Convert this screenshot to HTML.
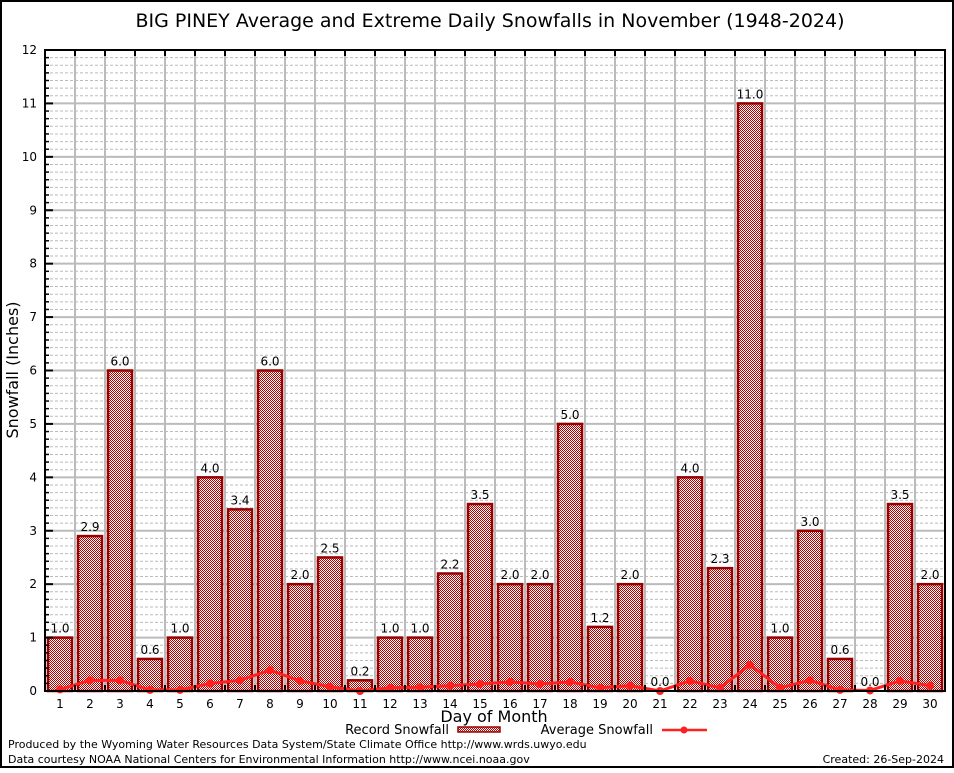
<!DOCTYPE html>
<html><head><meta charset="utf-8"><style>
body{margin:0;background:#fff;font-family:"Liberation Sans","DejaVu Sans",sans-serif}
svg text{font-family:"DejaVu Sans","Liberation Sans",sans-serif}
</style></head><body>
<svg id="c" width="954" height="768" viewBox="0 0 954 768" xmlns="http://www.w3.org/2000/svg">
<defs>
<pattern id="chk" width="2" height="2" patternUnits="userSpaceOnUse">
<rect width="2" height="2" fill="#fff" shape-rendering="crispEdges"/><rect width="1" height="1" fill="#b00000" shape-rendering="crispEdges"/><rect x="1" y="1" width="1" height="1" fill="#b00000" shape-rendering="crispEdges"/>
</pattern>
</defs>
<rect x="1" y="1" width="952" height="766" fill="#fff" stroke="#000" stroke-width="2"/>
<text x="490" y="27" font-size="19" text-anchor="middle" font-family="Liberation Sans">BIG PINEY Average and Extreme Daily Snowfalls in November (1948-2024)</text>
<g id="grid"></g>
<g id="bars"></g>
<g id="avg"></g>
<g id="axes"></g>
<text transform="translate(18,370) rotate(-90)" font-size="16" text-anchor="middle">Snowfall (Inches)</text>
<text x="494" y="722" font-size="16" text-anchor="middle">Day of Month</text>
<g>
<text x="449" y="734" font-size="13" text-anchor="end">Record Snowfall</text>
<rect x="458" y="727" width="42" height="5" fill="url(#chk)" stroke="#990000" stroke-width="1.5"/>
<text x="653" y="734" font-size="13" text-anchor="end">Average Snowfall</text>
<line x1="662" y1="730" x2="707" y2="730" stroke="#ff2020" stroke-width="2.5"/>
<circle cx="684" cy="730" r="3.5" fill="#ff2020"/>
</g>
<text x="8" y="748" font-size="11">Produced by the Wyoming Water Resources Data System/State Climate Office http://www.wrds.uwyo.edu</text>
<text x="8" y="763" font-size="11">Data courtesy NOAA National Centers for Environmental Information http://www.ncei.noaa.gov</text>
<text x="944" y="763" font-size="11" text-anchor="end">Created: 26-Sep-2024</text>
</svg>
<script>
const days=[1,2,3,4,5,6,7,8,9,10,11,12,13,14,15,16,17,18,19,20,21,22,23,24,25,26,27,28,29,30];
const recordValues=[1.0,2.9,6.0,0.6,1.0,4.0,3.4,6.0,2.0,2.5,0.2,1.0,1.0,2.2,3.5,2.0,2.0,5.0,1.2,2.0,0.0,4.0,2.3,11.0,1.0,3.0,0.6,0.0,3.5,2.0];
const averageValues=[0.03,0.2,0.2,0.02,0.02,0.14,0.2,0.39,0.19,0.08,0.0,0.06,0.07,0.1,0.13,0.17,0.13,0.17,0.06,0.1,0.0,0.19,0.06,0.49,0.06,0.2,0.02,0.01,0.19,0.1];
const yTicks=[0,1,2,3,4,5,6,7,8,9,10,11,12];
const NS="http://www.w3.org/2000/svg";
const L=45,R=945,T=50,B=691,yMax=12;
const bw=(R-L)/days.length;
function x(i){return L+bw*(i+0.5);}
function y(v){return B-(v/yMax)*(B-T);}
function mk(tag,attrs,parent){const e=document.createElementNS(NS,tag);for(const k in attrs)e.setAttribute(k,attrs[k]);parent.appendChild(e);return e;}
const grid=document.getElementById('grid'),bars=document.getElementById('bars'),avg=document.getElementById('avg'),axes=document.getElementById('axes');
for(let v=0;v<yMax;v++){for(let s=1;s<7;s++){const yy=y(v+s/7);
const l=mk('line',{x1:L,x2:R,y1:yy,y2:yy,stroke:'#bbb','stroke-dasharray':'3,2','stroke-width':1},grid);

}}
yTicks.forEach(v=>{const yy=y(v);
const l=mk('line',{x1:L,x2:R,y1:yy,y2:yy,stroke:'#bbb','stroke-width':2},grid);


const t=mk('text',{x:37,y:yy+4,'font-size':12,'text-anchor':'end','font-family':'Liberation Serif'},axes);t.textContent=v;


const tk=mk('line',{x1:L,x2:L+8,y1:yy,y2:yy,stroke:'#000','stroke-width':2},axes);


if(v<yMax)for(let s=1;s<7;s++){const m=mk('line',{x1:L,x2:L+4,y1:y(v+s/7),y2:y(v+s/7),stroke:'#000','stroke-width':1.5},axes);

}});
for(let i=1;i<days.length;i++){const xx=L+bw*i;
const l=mk('line',{x1:xx,x2:xx,y1:T,y2:B,stroke:'#bbb','stroke-width':2},grid);


const a=mk('line',{x1:xx,x2:xx,y1:T,y2:T+6,stroke:'#000','stroke-width':2},axes);


const b=mk('line',{x1:xx,x2:xx,y1:B-6,y2:B,stroke:'#000','stroke-width':2},axes);

}
days.forEach((d,i)=>{const v=recordValues[i];
if(v>0){const r=mk('rect',{x:x(i)-12,y:y(v),width:24,height:B-y(v),fill:'url(#chk)',stroke:'#990000','stroke-width':2.5},bars);

}
const t=mk('text',{x:x(i),y:y(v)-5,'font-size':12,'text-anchor':'middle'},bars);t.textContent=v.toFixed(1);


const xl=mk('text',{x:x(i),y:B+17,'font-size':12,'text-anchor':'middle','font-family':'Liberation Serif'},axes);xl.textContent=d;

});
const pl=mk('polyline',{points:averageValues.map((v,i)=>x(i)+','+y(v)).join(' '),fill:'none',stroke:'#ff2020','stroke-width':3},avg);


averageValues.forEach((v,i)=>{const c=mk('circle',{cx:x(i),cy:y(v),r:4,fill:'#ff2020'},avg);

});
const f=mk('rect',{x:L,y:T,width:R-L,height:B-T,fill:'none',stroke:'#000','stroke-width':2},axes);


</script>
</body></html>
